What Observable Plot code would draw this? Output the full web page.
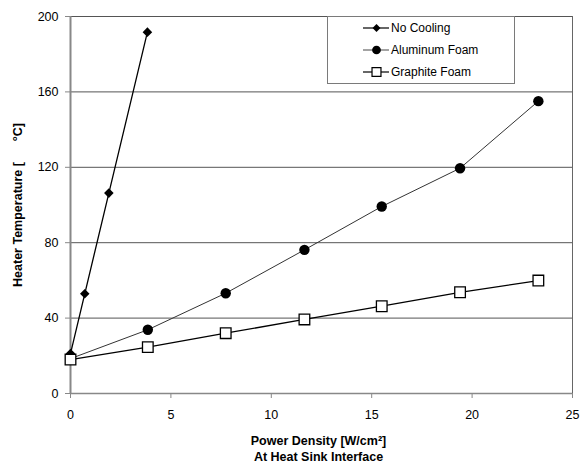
<!DOCTYPE html>
<html><head><meta charset="utf-8">
<script src="https://cdn.jsdelivr.net/npm/d3@7"></script>
<script src="https://cdn.jsdelivr.net/npm/@observablehq/plot@0.6"></script>
<style>
body{margin:0;background:#fff;font-family:"Liberation Sans",Arial,sans-serif;}
#wrap{position:relative;width:581px;height:465px;}
#legend{position:absolute;left:327px;top:16px;width:188px;height:68px;border:1px solid #7a7a7a;background:#fff;box-sizing:border-box;font-size:12px;color:#000;}
.row{position:absolute;left:35px;height:16px;display:flex;align-items:center;white-space:nowrap;}
.row svg{margin-right:2px;}
</style></head><body><div id="wrap"></div>
<script>
const seriesNames = ["No Cooling", "Aluminum Foam", "Graphite Foam"];
const noCoolingX = [0, 0.71, 1.91, 3.83];
const noCoolingY = [21.2, 52.9, 106.3, 191.7];
const foamX = [0, 3.85, 7.73, 11.65, 15.5, 19.4, 23.3];
const aluminumY = [18.5, 33.8, 53.2, 76.2, 99.2, 119.5, 155.1];
const graphiteY = [18.0, 24.6, 32.0, 39.3, 46.3, 53.7, 59.9];
const xTicks = [0, 5, 10, 15, 20, 25];
const yTicks = [0, 40, 80, 120, 160, 200];
const xTitle = "Power Density [W/cm\u00b2]\nAt Heat Sink Interface";
const yTitle = "Heater Temperature [\u00a0\u00a0\u00a0\u00a0\u00a0 \u00b0C]";

const noCooling = noCoolingX.map((x, i) => ({series: seriesNames[0], x, y: noCoolingY[i]}));
const aluminum = foamX.map((x, i) => ({series: seriesNames[1], x, y: aluminumY[i]}));
const graphite = foamX.map((x, i) => ({series: seriesNames[2], x, y: graphiteY[i]}));

const chart = Plot.plot({
  width: 581, height: 465,
  marginLeft: 70, marginRight: 9, marginTop: 16, marginBottom: 72,
  style: {fontFamily: "'Liberation Sans', Arial, sans-serif", fontSize: "12.5px", color: "#000", background: "#fff", overflow: "visible"},
  x: {domain: [0, 25]},
  y: {domain: [0, 200]},
  marks: [
    Plot.ruleY(yTicks.filter(d => d > 0), {stroke: "#555", strokeWidth: 1}),
    Plot.ruleX([25], {stroke: "#666", strokeWidth: 1}),
    Plot.ruleY([0], {stroke: "#888", strokeWidth: 1.5}),
    Plot.ruleX([0], {stroke: "#888", strokeWidth: 2}),
    Plot.axisX({ticks: xTicks, tickSize: 5, tickPadding: 11.5, stroke: "#888", label: null}),
    Plot.axisY({ticks: yTicks, tickSize: 5, tickPadding: 7, stroke: "#888", label: null}),
    Plot.line(noCooling, {x: "x", y: "y", stroke: "#000", strokeWidth: 1.3}),
    Plot.line(aluminum, {x: "x", y: "y", stroke: "#333", strokeWidth: 1}),
    Plot.line(graphite, {x: "x", y: "y", stroke: "#000", strokeWidth: 1.3}),
    Plot.dot(aluminum, {x: "x", y: "y", symbol: "circle", r: 5.2, fill: "#000"}),
    Plot.dot(noCooling, {x: "x", y: "y", symbol: "diamond2", r: 4.3, fill: "#000"}),
    Plot.dot(graphite, {x: "x", y: "y", symbol: "square", r: 6, fill: "#fff", stroke: "#000", strokeWidth: 1.3}),
    Plot.text([yTitle], {frameAnchor: "left", textAnchor: "middle", rotate: -90, dx: -52.5, fontWeight: "bold", fontSize: 12.5, fill: "#000"}),
    Plot.text([xTitle], {frameAnchor: "bottom", dx: -3, dy: 54.5, lineAnchor: "middle", lineHeight: 1.22, fontWeight: "bold", fontSize: 12.5, fill: "#000"})
  ]
});
const wrap = document.getElementById("wrap");
wrap.appendChild(chart);

// legend overlay
const legend = document.createElement("div");
legend.id = "legend";
const rowsTop = [3, 25, 47];
const sym = [
  d3.symbol(d3.symbolDiamond2, 40)(),
  d3.symbol(d3.symbolCircle, 60)(),
  d3.symbol(d3.symbolSquare, 80)()
];
seriesNames.forEach((name, i) => {
  const row = document.createElement("div");
  row.className = "row";
  row.style.top = rowsTop[i] + "px";
  const lineColor = i === 1 ? "#666" : "#000";
  const markAttrs = i === 2 ? 'fill="#fff" stroke="#000" stroke-width="1.2"' : 'fill="#000"';
  row.innerHTML = `<svg width="26" height="16"><line x1="0" x2="26" y1="8" y2="8" stroke="${lineColor}" stroke-width="1.2"/><path d="${sym[i]}" transform="translate(13.5,8)" ${markAttrs}/></svg><span>${name}</span>`;
  legend.appendChild(row);
});
wrap.appendChild(legend);
</script>
</body></html>
